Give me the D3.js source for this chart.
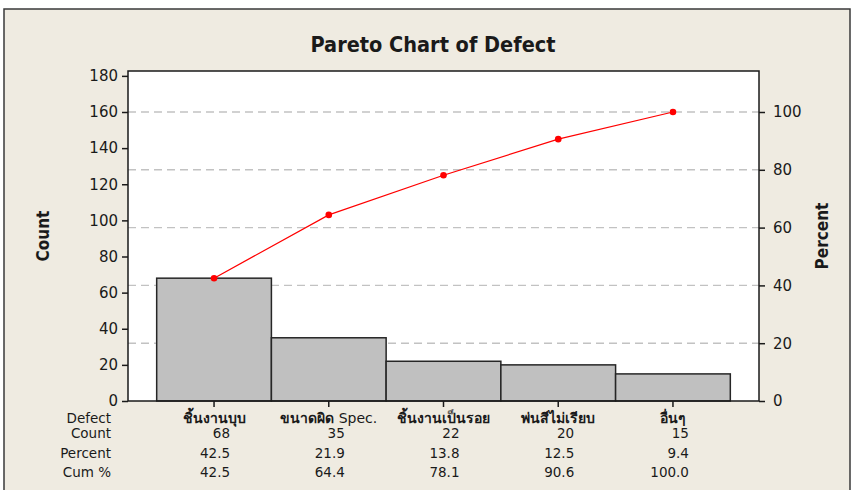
<!DOCTYPE html>
<html>
<head>
<meta charset="utf-8">
<script src="https://cdn.jsdelivr.net/npm/d3@7"></script>
<style>
  body { margin: 0; background: #fff; }
  text { fill: #1a1a1a; }
</style>
</head>
<body>
<div id="chart"></div>
<script>
// data
const categories = ["ชิ้นงานบุบ", "ขนาดผิด Spec.", "ชิ้นงานเป็นรอย", "พ่นสีไม่เรียบ", "อื่นๆ"];
const counts = [68, 35, 22, 20, 15];
const percents = ["42.5", "21.9", "13.8", "12.5", "9.4"];
const cumPercents = [42.5, 64.4, 78.1, 90.6, 100.0];
const countTicks = [0, 20, 40, 60, 80, 100, 120, 140, 160, 180];
const percentTicks = [0, 20, 40, 60, 80, 100];
const rowLabels = ["Defect", "Count", "Percent", "Cum %"];

const W = 852, H = 490;
// plot box
const plotL = 128, plotR = 759, plotT = 71, plotB = 401, totalY = 112;
const total = d3.sum(counts);

const svg = d3.select("#chart").append("svg")
  .attr("width", W)
  .attr("height", H);

// beige panel with frame
svg.append("rect")
  .attr("x", 4).attr("y", 9)
  .attr("width", 846).attr("height", 500)
  .attr("fill", "#efebe1")
  .attr("stroke", "#3a3a3a")
  .attr("stroke-width", 1.5);

// scales
const x = d3.scaleBand()
  .domain(categories)
  .range([plotL, plotR])
  .paddingInner(0)
  .paddingOuter(0.25);

const yCount = d3.scaleLinear()
  .domain([0, total])
  .range([plotB, totalY]);

const yPct = d3.scaleLinear()
  .domain([0, 100])
  .range([plotB, totalY]);

// plot background
svg.append("rect")
  .attr("x", plotL).attr("y", plotT)
  .attr("width", plotR - plotL).attr("height", plotB - plotT)
  .attr("fill", "#fff");

// percent gridlines
svg.append("g")
  .selectAll("line")
  .data(percentTicks.filter(d => d > 0))
  .join("line")
    .attr("x1", plotL).attr("x2", plotR)
    .attr("y1", d => yPct(d)).attr("y2", d => yPct(d))
    .attr("stroke", "#c2c2c2")
    .attr("stroke-width", 1.4)
    .attr("stroke-dasharray", "8,5");

// bars
svg.append("g")
  .selectAll("rect")
  .data(counts)
  .join("rect")
    .attr("x", (d, i) => x(categories[i]))
    .attr("y", d => yCount(d))
    .attr("width", x.bandwidth())
    .attr("height", d => plotB - yCount(d))
    .attr("fill", "#c0c0c0")
    .attr("stroke", "#262626")
    .attr("stroke-width", 1.5);

// cumulative line
const cx = (d, i) => x(categories[i]) + x.bandwidth() / 2;
const line = d3.line()
  .x(cx)
  .y(d => yPct(d));

svg.append("path")
  .datum(cumPercents)
  .attr("d", line)
  .attr("fill", "none")
  .attr("stroke", "#ff0000")
  .attr("stroke-width", 1.2);

svg.append("g")
  .selectAll("circle")
  .data(cumPercents)
  .join("circle")
    .attr("cx", cx)
    .attr("cy", d => yPct(d))
    .attr("r", 3.3)
    .attr("fill", "#ff0000");

// plot frame
svg.append("rect")
  .attr("x", plotL).attr("y", plotT)
  .attr("width", plotR - plotL).attr("height", plotB - plotT)
  .attr("fill", "none")
  .attr("stroke", "#1a1a1a")
  .attr("stroke-width", 1.5);

// axes
const axisFont = "'DejaVu Sans', Verdana, sans-serif";

const leftAxis = svg.append("g")
  .attr("transform", `translate(${plotL},0)`)
  .call(d3.axisLeft(yCount).tickValues(countTicks).tickSize(6).tickPadding(4));

const rightAxis = svg.append("g")
  .attr("transform", `translate(${plotR},0)`)
  .call(d3.axisRight(yPct).tickValues(percentTicks).tickSize(6).tickPadding(8));

const bottomAxis = svg.append("g")
  .attr("transform", `translate(0,${plotB})`)
  .call(d3.axisBottom(x).tickSize(6).tickFormat(""));

[leftAxis, rightAxis, bottomAxis].forEach(g => {
  g.select(".domain").remove();
  g.selectAll(".tick line").attr("stroke", "#1a1a1a").attr("stroke-width", 1.5);
  g.selectAll(".tick text")
    .attr("font-family", axisFont)
    .attr("font-size", 15)
    .attr("fill", "#1a1a1a");
});

// title and axis titles
const titleFont = "'DejaVu Sans Condensed', 'DejaVu Sans', sans-serif";

svg.append("text")
  .attr("x", 433).attr("y", 52)
  .attr("text-anchor", "middle")
  .attr("font-family", titleFont)
  .attr("font-weight", "bold")
  .attr("font-size", 21.5)
  .text("Pareto Chart of Defect");

svg.append("text")
  .attr("transform", `translate(49,${(plotT + plotB) / 2}) rotate(-90)`)
  .attr("text-anchor", "middle")
  .attr("font-family", titleFont)
  .attr("font-weight", "bold")
  .attr("font-size", 17)
  .text("Count");

svg.append("text")
  .attr("transform", `translate(828,${(plotT + plotB) / 2}) rotate(-90)`)
  .attr("text-anchor", "middle")
  .attr("font-family", titleFont)
  .attr("font-weight", "bold")
  .attr("font-size", 17)
  .text("Percent");

// table under the chart
const tableFont = "'DejaVu Sans', Verdana, sans-serif";
const rowY = [423, 438, 457.5, 476.5];

svg.append("g")
  .selectAll("text")
  .data(rowLabels)
  .join("text")
    .attr("x", 111)
    .attr("y", (d, i) => rowY[i])
    .attr("text-anchor", "end")
    .attr("font-family", tableFont)
    .attr("font-size", 13.5)
    .text(d => d);

// category names: Thai runs look heavier than latin ones in the original
const catText = svg.append("g")
  .selectAll("text")
  .data(categories)
  .join("text")
    .attr("x", d => x(d) + x.bandwidth() / 2)
    .attr("y", rowY[0])
    .attr("text-anchor", "middle")
    .attr("font-family", tableFont)
    .attr("font-size", 14);

catText.each(function(d) {
  const parts = d.match(/[\u0E00-\u0E7F]+|[^\u0E00-\u0E7F]+/g);
  d3.select(this).selectAll("tspan")
    .data(parts)
    .join("tspan")
      .attr("font-weight", p => /[\u0E00-\u0E7F]/.test(p) ? "bold" : "normal")
      .text(p => p);
});

const rows = [counts.map(String), percents, cumPercents.map(d => d.toFixed(1))];
rows.forEach((vals, r) => {
  svg.append("g")
    .selectAll("text")
    .data(vals)
    .join("text")
      .attr("x", (d, i) => x(categories[i]) + x.bandwidth() / 2 + 16)
      .attr("y", rowY[r + 1])
      .attr("text-anchor", "end")
      .attr("font-family", tableFont)
      .attr("font-size", 13.5)
      .text(d => d);
});
</script>
</body>
</html>
